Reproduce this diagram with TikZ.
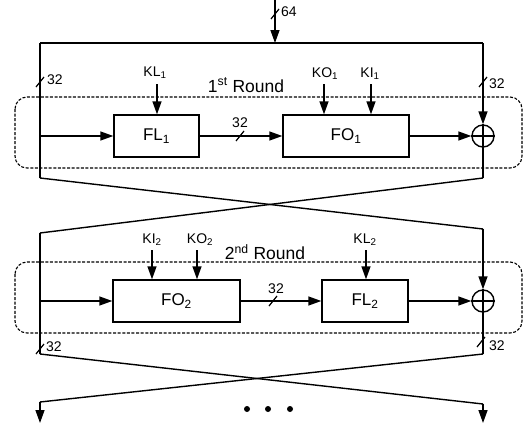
\documentclass[tikz,border=0pt]{standalone}
\usepackage{fontspec}
\setmainfont{Liberation Sans}
\usetikzlibrary{arrows.meta}
\begin{document}
\begin{tikzpicture}[x=1pt,y=-1pt,
 wire/.style={line width=1.4pt},
 arr/.style={wire,-{Triangle[length=13pt,width=9pt]}},
 fbox/.style={draw,line width=1.4pt,minimum height=42pt,inner sep=0pt,font=\fontsize{17}{17}\selectfont},
 lbl/.style={font=\fontsize{14}{14}\selectfont,inner sep=0pt},
 rlbl/.style={font=\fontsize{17.5}{17.5}\selectfont,inner sep=0pt},
 rnd/.style={draw,line width=1.1pt,rounded corners=12pt,dash pattern=on 3pt off 1.6pt},
 xorc/.style={circle,draw,line width=1.4pt,minimum size=22pt,inner sep=0pt},
 slash/.style={line width=1.2pt},
 dot/.style={circle,fill,minimum size=6pt,inner sep=0pt}
]
\useasboundingbox (0,0) rectangle (524,423);

% ---------- top input ----------
\coordinate (in) at (275,0);
\coordinate (tin) at (275,43);
\coordinate (tl) at (40,43);
\coordinate (tr) at (483,43);
\draw[arr] (in) -- (tin);
\draw[slash] (275,14) ++(-4,5) -- ++(8,-10);
\node[lbl,anchor=west] (l64) at (281,12) {64};
\draw[wire] (tl) -- (tr);

% ---------- round 1 ----------
\draw[rnd] (15,97) rectangle (522,168);
\node[rlbl] (r1) at (246,85) {1\textsuperscript{st} Round};
\node[fbox,minimum width=85pt] (FL1) at (156.5,136) {FL\textsubscript{1}};
\node[fbox,minimum width=126pt] (FO1) at (346,136) {FO\textsubscript{1}};
\node[xorc] (X1) at (483,136) {};
\draw[wire] (X1.west) -- (X1.east);
\draw[wire] (X1.north) -- (X1.south);

\node[lbl] (KL1) at (155,73) {KL\textsubscript{1}};
\node[lbl] (KO1) at (325,74) {KO\textsubscript{1}};
\node[lbl] (KI1) at (370,74) {KI\textsubscript{1}};
\draw[arr] (157,84) -- (FL1.north -| 157,0);
\draw[arr] (324,84) -- (FO1.north -| 324,0);
\draw[arr] (371,84) -- (FO1.north -| 371,0);

\coordinate (l1a) at (40,178);
\coordinate (r1a) at (483,178);
\coordinate (j1) at (40,136);
\draw[wire] (tl) -- (l1a);
\draw[slash] (40,82) ++(-4,5) -- ++(8,-10);
\node[lbl,anchor=west] (s1l) at (47,80) {32};
\draw[arr] (tr) -- (X1.north);
\draw[slash] (483,82) ++(-4,5) -- ++(8,-10);
\node[lbl,anchor=west] (s1r) at (489,84) {32};
\draw[wire] (X1.south) -- (r1a);
\draw[arr] (j1) -- (FL1.west);
\draw[arr] (FL1.east) -- (FO1.west);
\draw[slash] (240,136) ++(-4,5) -- ++(8,-10);
\node[lbl] (m1) at (240,123) {32};
\draw[arr] (FO1.east) -- (X1.west);

% ---------- crossing 1 ----------
\coordinate (l2a) at (40,233);
\coordinate (r2a) at (483,229);
\draw[wire] (l1a) -- (r2a);
\draw[wire] (r1a) -- (l2a);

% ---------- round 2 ----------
\draw[rnd] (15,262) rectangle (522,333);
\node[rlbl] (r2) at (265,252) {2\textsuperscript{nd} Round};
\node[fbox,minimum width=127pt] (FO2) at (176.5,301) {FO\textsubscript{2}};
\node[fbox,minimum width=86pt] (FL2) at (365,301) {FL\textsubscript{2}};
\node[xorc] (X2) at (483,301) {};
\draw[wire] (X2.west) -- (X2.east);
\draw[wire] (X2.north) -- (X2.south);

\node[lbl] (KI2) at (152,240) {KI\textsubscript{2}};
\node[lbl] (KO2) at (200,240) {KO\textsubscript{2}};
\node[lbl] (KL2) at (365,240) {KL\textsubscript{2}};
\draw[arr] (152,250) -- (FO2.north -| 152,0);
\draw[arr] (197,250) -- (FO2.north -| 197,0);
\draw[arr] (366,250) -- (FL2.north -| 366,0);

\coordinate (l2b) at (40,354);
\coordinate (r2b) at (483,354);
\coordinate (j2) at (40,301);
\draw[wire] (l2a) -- (l2b);
\draw[slash] (40,349) ++(-4,5) -- ++(8,-10);
\node[lbl,anchor=west] (s2l) at (46,347) {32};
\draw[arr] (r2a) -- (X2.north);
\draw[wire] (X2.south) -- (r2b);
\draw[slash] (481,342) ++(-4,5) -- ++(8,-10);
\node[lbl,anchor=west] (s2r) at (489,346) {32};
\draw[arr] (j2) -- (FO2.west);
\draw[arr] (FO2.east) -- (FL2.west);
\draw[slash] (273,301) ++(-4,5) -- ++(8,-10);
\node[lbl] (m2) at (276,289) {32};
\draw[arr] (FL2.east) -- (X2.west);

% ---------- crossing 2 ----------
\coordinate (l3a) at (40,402);
\coordinate (r3a) at (483,404);
\coordinate (l3b) at (40,423);
\coordinate (r3b) at (483,423);
\draw[wire] (l2b) -- (r3a);
\draw[wire] (r2b) -- (l3a);
\draw[arr] (l3a) -- (l3b);
\draw[arr] (r3a) -- (r3b);

\node[dot] (d1) at (247,409) {};
\node[dot] (d2) at (268,409) {};
\node[dot] (d3) at (290,409) {};
\end{tikzpicture}
\end{document}
